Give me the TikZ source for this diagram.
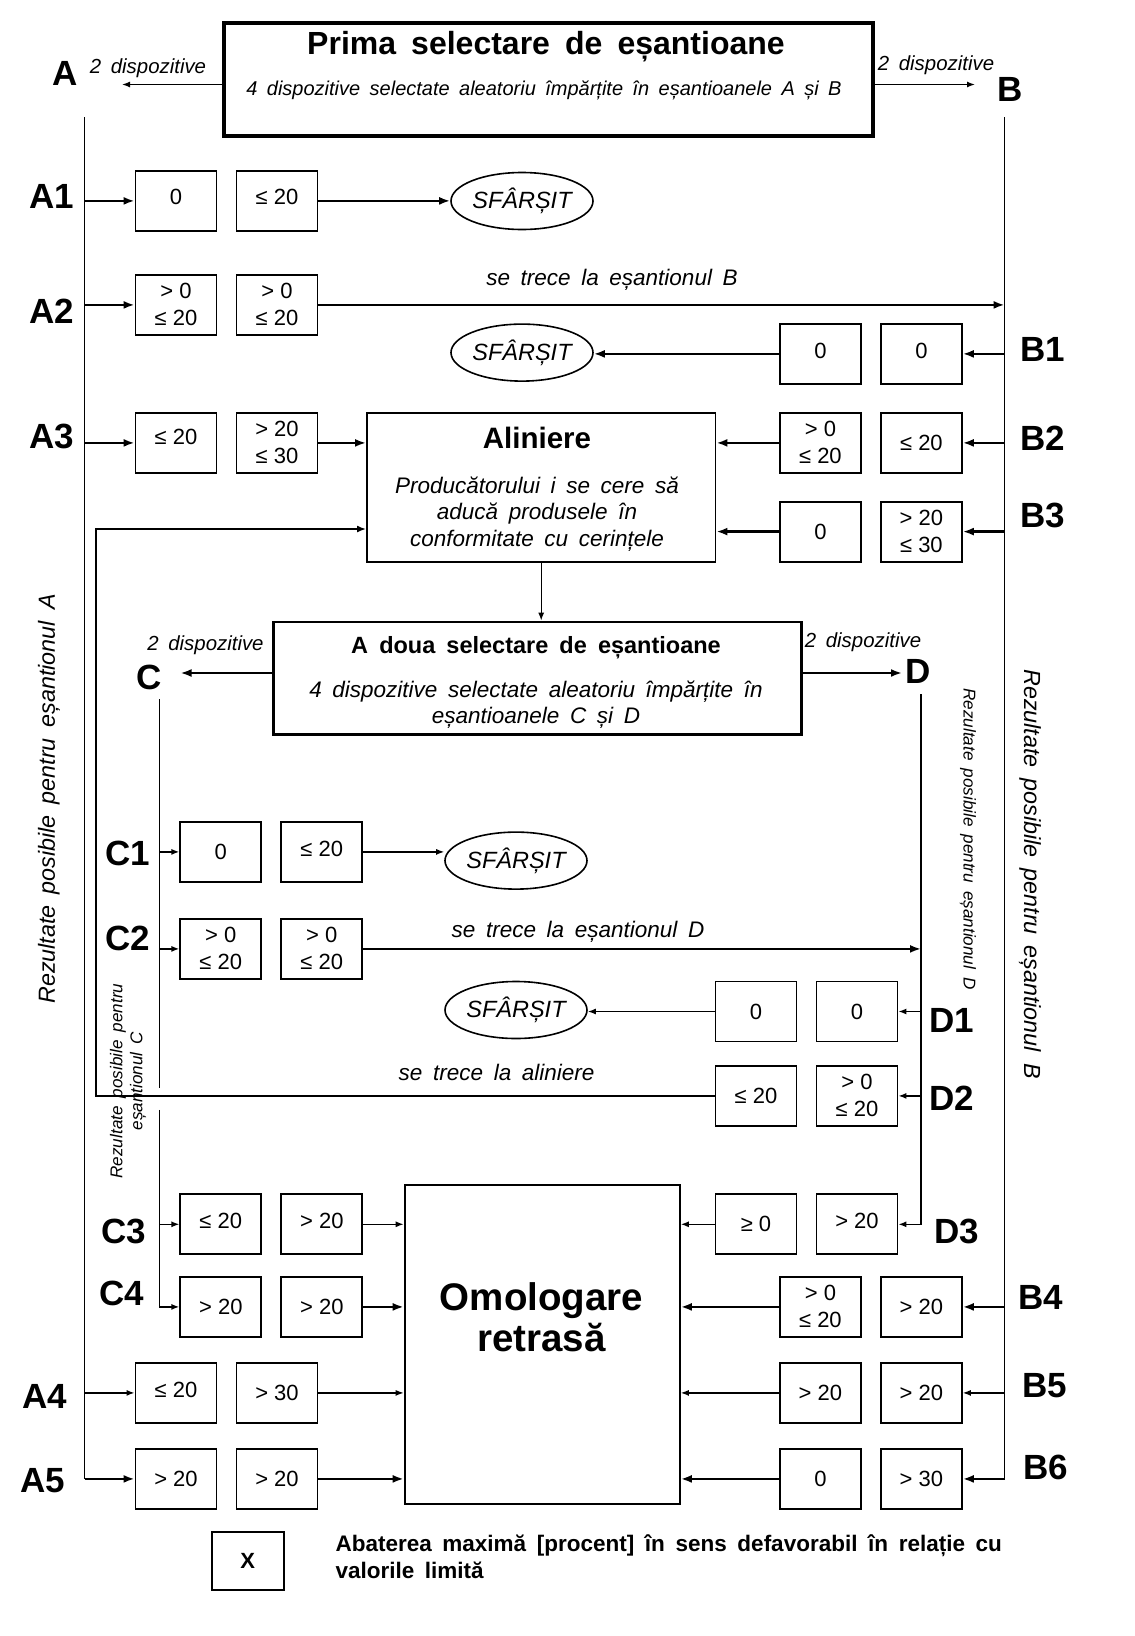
\documentclass[tikz,border=0pt]{standalone}
\usepackage{fontspec}
\setmainfont{Liberation Sans}[WordSpace=1.7]
\newfontfamily\valfont{Liberation Sans}
\usetikzlibrary{arrows.meta,calc,shapes.geometric}
\tikzset{
  valbox/.style={draw,line width=1.8pt,minimum width=81pt,minimum height=60pt,
    inner sep=0pt,anchor=north west,align=center,font=\valfont\fontsize{22}{27}\selectfont},
  bigbox/.style={draw,line width=1.8pt,inner sep=0pt,anchor=north west},
  endnode/.style={draw,ellipse,line width=1.6pt,minimum width=142pt,minimum height=57pt,
    inner sep=0pt,font=\itshape\fontsize{23.5}{23.5}\selectfont},
  lbl/.style={font=\bfseries\fontsize{35}{35}\selectfont},
  note/.style={font=\itshape\fontsize{20.4}{20.4}\selectfont},
  pass/.style={font=\itshape\fontsize{22.5}{22.5}\selectfont},
  side/.style={font=\itshape\fontsize{23.3}{23.3}\selectfont},
  sidesm/.style={font=\itshape\fontsize{17.1}{20}\selectfont,align=center},
  rule/.style={line width=1.5pt},
  thk/.style={line width=2.8pt,-{Latex[length=11pt,width=8pt]}},
  thn/.style={line width=1.4pt,-{Latex[length=8pt,width=6pt]}}
}
% two value boxes side by side: name, left x, top y, left text, right text
\newcommand{\valpair}[5]{%
  \node[valbox] (#1l) at (#2,#3) {#4};
  \node[valbox] (#1r) at (#2+101,#3) {#5};%
}
\begin{document}
\begin{tikzpicture}[x=1pt,y=-1pt]
  \useasboundingbox (0,0) rectangle (1135,1636);
  % first selection
  \node[bigbox,line width=4pt,minimum width=649pt,minimum height=113pt] (sel1) at (222,21) {};
  \node[font=\bfseries\fontsize{32}{32}\selectfont] (sel1title) at (546,47) {Prima selectare de eșantioane};
  \node[font=\itshape\fontsize{20}{20}\selectfont] (sel1text) at (544,90)
    {4 dispozitive selectate aleatoriu împărțite în eșantioanele A și B};
  \coordinate (toA) at (122,84.5);
  \coordinate (toB) at (975,84.5);
  \draw[thn] (sel1.west |- toA) -- (toA);
  \draw[thn] (sel1.east |- toB) -- (toB);
  \node[note] (nA) at (148,68) {2 dispozitive};
  \node[note] (nB) at (936,65) {2 dispozitive};
  \node[lbl] (lA) at (65,73) {A};
  \node[lbl] (lB) at (1010,89) {B};
  \coordinate (atop) at (84.5,117);
  \coordinate (btop) at (1004.6,117);
  \node[side,rotate=90] (rA) at (49,799) {Rezultate posibile pentru eșantionul A};
  \node[side,rotate=-90] (rB) at (1030,874) {Rezultate posibile pentru eșantionul B};

  % value boxes
  \valpair{a1}{134.6}{170}{\raisebox{9pt}{0}}{\raisebox{9pt}{≤ 20}}
  \valpair{a2}{134.6}{274}{> 0\\≤ 20}{> 0\\≤ 20}
  \valpair{b1}{779}{323}{\raisebox{6pt}{0}}{\raisebox{6pt}{0}}
  \valpair{a3}{134.6}{412}{\raisebox{12pt}{≤ 20}}{> 20\\≤ 30}
  \valpair{b2}{779}{412}{> 0\\≤ 20}{≤ 20}
  \valpair{b3}{779}{500.7}{0}{> 20\\≤ 30}
  \valpair{c1}{179.4}{821}{0}{\raisebox{6pt}{≤ 20}}
  \valpair{c2}{179.4}{918}{> 0\\≤ 20}{> 0\\≤ 20}
  \valpair{d1}{714.6}{980.6}{0}{0}
  \valpair{d2}{714.6}{1065}{≤ 20}{> 0\\≤ 20}
  \valpair{c3}{179.4}{1193.4}{\raisebox{6pt}{≤ 20}}{\raisebox{6pt}{> 20}}
  \valpair{d3}{714.6}{1193.4}{≥ 0}{\raisebox{6pt}{> 20}}
  \valpair{c4}{179.4}{1276}{> 20}{> 20}
  \valpair{b4}{779}{1276}{> 0\\≤ 20}{> 20}
  \valpair{a4}{134.6}{1362}{\raisebox{6pt}{≤ 20}}{> 30}
  \valpair{b5}{779}{1362}{> 20}{> 20}
  \valpair{a5}{134.6}{1448}{> 20}{> 20}
  \valpair{b6}{779}{1448}{0}{> 30}

  % row labels
  \node[lbl] (lA1) at (52,196) {A1};
  \node[lbl] (lA2) at (52,311) {A2};
  \node[lbl] (lB1) at (1043,349.5) {B1};
  \node[lbl] (lA3) at (52,436) {A3};
  \node[lbl] (lB2) at (1043,438) {B2};
  \node[lbl] (lB3) at (1043,515) {B3};
  \node[lbl] (lC1) at (128,853) {C1};
  \node[lbl] (lC2) at (128,938) {C2};
  \node[lbl] (lD1) at (952,1020) {D1};
  \node[lbl] (lD2) at (952,1098.5) {D2};
  \node[lbl] (lC3) at (124,1231) {C3};
  \node[lbl] (lD3) at (956.6,1231) {D3};
  \node[lbl] (lC4) at (122,1293.6) {C4};
  \node[lbl] (lB4) at (1041,1297) {B4};
  \node[lbl] (lA4) at (45,1396) {A4};
  \node[lbl] (lB5) at (1045,1385.5) {B5};
  \node[lbl] (lA5) at (43,1481) {A5};
  \node[lbl] (lB6) at (1046,1467) {B6};

  % ends
  \node[endnode] (sfA1) at (522,201) {SFÂRȘIT};
  \node[endnode] (sfB1) at (522,352.6) {SFÂRȘIT};
  \node[endnode] (sfC1) at (516,860.6) {SFÂRȘIT};
  \node[endnode] (sfD1) at (516,1010) {SFÂRȘIT};

  % alignment
  \node[bigbox,minimum width=348.6pt,minimum height=149pt] (alin) at (366,412) {};
  \node[font=\bfseries\fontsize{29.5}{29.5}\selectfont] (alintitle) at (537,438) {Aliniere};
  \node[font=\itshape\fontsize{22.5}{26.5}\selectfont,align=center] (alintext) at (537,514)
    {Producătorului i se cere să\\aducă produsele în\\conformitate cu cerințele};

  % second selection
  \node[bigbox,line width=2.6pt,minimum width=528pt,minimum height=112.7pt] (sel2) at (272,620.7) {};
  \node[font=\bfseries\fontsize{23.5}{23.5}\selectfont] (sel2title) at (536,648) {A doua selectare de eșantioane};
  \node[font=\itshape\fontsize{22.5}{26}\selectfont,align=center] (sel2text) at (536,704.6)
    {4 dispozitive selectate aleatoriu împărțite în\\eșantioanele C și D};
  \coordinate (toC) at (180.5,673);
  \coordinate (toD) at (902,673);
  \draw[thk] (sel2.west |- toC) -- (toC);
  \draw[thk] (sel2.east |- toD) -- (toD);
  \node[note] (nC) at (205.5,645.7) {2 dispozitive};
  \node[note] (nD) at (863,642.6) {2 dispozitive};
  \node[lbl] (lC) at (149,677) {C};
  \node[lbl] (lD) at (918,671) {D};
  \coordinate (ctop) at (159.6,699);
  \coordinate (dtop) at (921,694);
  \node[sidesm,rotate=90] (rC) at (128,1081) {Rezultate posibile pentru\\eșantionul C};
  \node[sidesm,rotate=-90] (rD) at (968,839) {Rezultate posibile pentru eșantionul D};

  % withdrawn
  \node[bigbox,minimum width=275.3pt,minimum height=319pt] (omol) at (403.7,1184) {};
  \node[font=\bfseries\fontsize{38.5}{41}\selectfont,align=center] (omoltext) at (541.5,1317)
    {Omologare\\retrasă};

  % sample A / B lines
  \draw[rule] (atop) -- (atop |- a5l.west);
  \draw[rule] (btop) -- (btop |- b6r.east);
  \draw[thk] (a1l.west -| atop) -- (a1l.west);
  \draw[thk] (a1r.east) -- (a1r.east -| sfA1.west);
  \draw[thk] (a2l.west -| atop) -- (a2l.west);
  \draw[thk] (a2r.east) -- (a2r.east -| btop);
  \node[pass] (passB) at (612,280) {se trece la eșantionul B};
  \draw[thk] (b1r.east -| btop) -- (b1r.east);
  \draw[thk] (b1l.west) -- (b1l.west -| sfB1.east);
  \draw[thk] (a3l.west -| atop) -- (a3l.west);
  \draw[thk] (a3r.east) -- (a3r.east -| alin.west);
  \draw[thk] (b2r.east -| btop) -- (b2r.east);
  \draw[thk] (b2l.west) -- (b2l.west -| alin.east);
  \draw[thk] (b3r.east -| btop) -- (b3r.east);
  \draw[thk] (b3l.west) -- (b3l.west -| alin.east);
  \draw[thn] (alin.south) -- (alin.south |- sel2.north);

  % sample C / D lines
  \draw[rule] (ctop) -- ($(ctop |- d2l.west)+(0,-8)$);
  \draw[thn] ($(ctop |- d2l.west)+(0,14)$) |- (c4l.west);
  \draw[thn] (dtop) |- (d3r.east);
  \draw[thn] (c1l.west -| ctop) -- (c1l.west);
  \draw[thn] (c1r.east) -- (c1r.east -| sfC1.west);
  \draw[thn] (c2l.west -| ctop) -- (c2l.west);
  \draw[thk] (c2r.east) -- (c2r.east -| dtop);
  \node[pass] (passD) at (578,931.6) {se trece la eșantionul D};
  \draw[thn] (d1r.east -| dtop) -- (d1r.east);
  \draw[thn] (d1l.west) -- (d1l.west -| sfD1.east);
  \draw[thn] (d2r.east -| dtop) -- (d2r.east);
  % back to alignment
  \coordinate (fbx) at (96,529);
  \draw[line width=1.5pt,-{Latex[length=9pt,width=7pt]}] (d2l.west) -| (fbx) -- (fbx -| alin.west);
  \node[pass] (passal) at (496.6,1072) {se trece la aliniere};
  \draw[thn] (c3l.west -| ctop) -- (c3l.west);
  \draw[thn] (c3r.east) -- (c3r.east -| omol.west);
  \draw[thn] (d3l.west) -- (d3l.west -| omol.east);
  \draw[thk] (c4r.east) -- (c4r.east -| omol.west);
  \draw[thk] (b4r.east -| btop) -- (b4r.east);
  \draw[thk] (b4l.west) -- (b4l.west -| omol.east);
  \draw[thn] (a4l.west -| atop) -- (a4l.west);
  \draw[thn] (a4r.east) -- (a4r.east -| omol.west);
  \draw[thn] (b5r.east -| btop) -- (b5r.east);
  \draw[thn] (b5l.west) -- (b5l.west -| omol.east);
  \draw[thk] (a5l.west -| atop) -- (a5l.west);
  \draw[thk] (a5r.east) -- (a5r.east -| omol.west);
  \draw[thk] (b6r.east -| btop) -- (b6r.east);
  \draw[thk] (b6l.west) -- (b6l.west -| omol.east);

  % legend
  \node[valbox,minimum width=72pt,minimum height=58pt,font=\bfseries\fontsize{22}{22}\selectfont] (xbox) at (210.7,1531) {X};
  \node[font=\bfseries\fontsize{22.5}{27}\selectfont,align=left,anchor=west] (xtext) at (332,1557)
    {Abaterea maximă [procent] în sens defavorabil în relație cu\\valorile limită};
\end{tikzpicture}
\end{document}
